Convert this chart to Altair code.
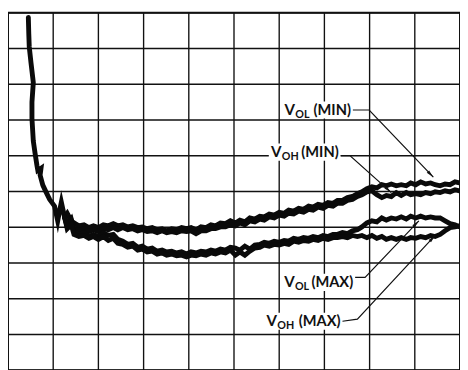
import altair as alt
import pandas as pd
import numpy as np

# ---- grid (divisions) ----
GRID_VALUES = [0, 1, 2, 3, 4, 5, 6, 7, 8, 9, 10]

# ---- common trunk of all four traces (x in divisions, y in divisions from top) ----
TRUNK_X = [0.45, 0.46, 0.47, 0.51, 0.56, 0.53, 0.53, 0.56, 0.60, 0.64, 0.66, 0.73, 0.71, 0.77, 0.84, 0.92, 1.03, 1.10, 1.14, 1.18, 1.25]
TRUNK_Y = [0.13, 0.59, 0.95, 1.41, 1.95, 2.50, 2.96, 3.59, 3.94, 4.27, 4.41, 4.35, 4.54, 4.82, 5.01, 5.22, 5.41, 5.82, 5.55, 5.30, 5.71]

# ---- sample positions shared by the four traces ----
X_GRID = [1.25, 1.31, 1.40,
          1.46, 1.57, 1.68, 1.79, 1.89, 2.00, 2.11, 2.22, 2.33, 2.43,
          2.54, 2.65, 2.76, 2.87, 2.97, 3.08, 3.19, 3.30, 3.41, 3.51,
          3.62, 3.73, 3.84, 3.95, 4.05, 4.16, 4.27, 4.38, 4.49, 4.59,
          4.70, 4.81, 4.92, 5.03, 5.13, 5.24, 5.35, 5.46, 5.57, 5.67,
          5.78, 5.89, 6.00, 6.11, 6.21, 6.32, 6.43, 6.54, 6.65, 6.75,
          6.86, 6.97, 7.08, 7.19, 7.29, 7.40, 7.51, 7.62, 7.73, 7.83,
          7.94, 8.05, 8.16, 8.27, 8.37, 8.48, 8.59, 8.70, 8.81, 8.91,
          9.02, 9.13, 9.24, 9.35, 9.45, 9.56, 9.67, 9.78, 9.89, 9.99]

Y_VOL_MIN = [5.71, 5.61, 5.82,
             5.88, 5.96, 5.93, 6.01, 5.96, 6.01, 5.93, 5.96, 5.90, 5.96,
             5.93, 5.99, 5.96, 6.01, 5.99, 6.04, 6.01, 6.07, 6.04, 6.10,
             6.04, 6.07, 6.01, 6.04, 6.01, 6.07, 5.99, 6.01, 5.93, 5.96,
             5.88, 5.90, 5.82, 5.88, 5.80, 5.85, 5.74, 5.77, 5.69, 5.71,
             5.63, 5.66, 5.58, 5.61, 5.52, 5.55, 5.47, 5.50, 5.41, 5.44,
             5.36, 5.39, 5.31, 5.33, 5.25, 5.25, 5.17, 5.14, 5.06, 5.01,
             4.92, 4.87, 4.90, 4.81, 4.84, 4.79, 4.84, 4.81, 4.84, 4.76,
             4.81, 4.73, 4.79, 4.76, 4.81, 4.84, 4.79, 4.81, 4.73, 4.76]

Y_VOH_MIN = [5.71, 5.93, 5.77,
             6.04, 6.10, 6.04, 6.12, 6.07, 6.12, 6.04, 6.07, 6.01, 6.07,
             6.01, 6.07, 6.04, 6.10, 6.07, 6.12, 6.10, 6.15, 6.10, 6.15,
             6.12, 6.15, 6.10, 6.12, 6.10, 6.18, 6.10, 6.10, 6.04, 6.04,
             5.99, 5.99, 5.93, 5.96, 5.88, 5.93, 5.82, 5.85, 5.77, 5.80,
             5.71, 5.74, 5.66, 5.69, 5.61, 5.63, 5.55, 5.58, 5.50, 5.52,
             5.44, 5.47, 5.39, 5.41, 5.33, 5.33, 5.25, 5.22, 5.14, 5.09,
             5.01, 4.98, 5.09, 5.17, 5.11, 5.14, 5.03, 5.11, 5.03, 5.09,
             5.06, 5.09, 5.03, 5.06, 5.01, 5.03, 4.98, 5.01, 4.95, 4.98]

Y_VOL_MAX = [5.71, 5.99, 5.82,
             6.12, 6.20, 6.15, 6.26, 6.20, 6.26, 6.15, 6.23, 6.20, 6.34,
             6.39, 6.48, 6.45, 6.56, 6.53, 6.61, 6.58, 6.67, 6.64, 6.69,
             6.67, 6.72, 6.69, 6.75, 6.69, 6.72, 6.67, 6.69, 6.64, 6.67,
             6.61, 6.64, 6.56, 6.58, 6.64, 6.53, 6.61, 6.50, 6.48, 6.42,
             6.45, 6.39, 6.42, 6.37, 6.39, 6.31, 6.34, 6.29, 6.31, 6.26,
             6.29, 6.23, 6.26, 6.20, 6.20, 6.15, 6.18, 6.10, 6.07, 5.99,
             5.88, 5.82, 5.85, 5.74, 5.80, 5.74, 5.77, 5.71, 5.77, 5.69,
             5.74, 5.69, 5.74, 5.71, 5.74, 5.74, 5.82, 5.90, 5.93, 5.99]

Y_VOH_MAX = [5.71, 6.04, 5.93,
             6.20, 6.26, 6.23, 6.31, 6.26, 6.34, 6.26, 6.37, 6.31, 6.45,
             6.48, 6.56, 6.53, 6.64, 6.61, 6.69, 6.67, 6.75, 6.72, 6.78,
             6.75, 6.80, 6.78, 6.83, 6.78, 6.80, 6.75, 6.78, 6.72, 6.75,
             6.69, 6.72, 6.64, 6.78, 6.69, 6.78, 6.67, 6.58, 6.56, 6.50,
             6.53, 6.48, 6.50, 6.45, 6.48, 6.39, 6.42, 6.37, 6.39, 6.34,
             6.37, 6.31, 6.34, 6.29, 6.29, 6.26, 6.29, 6.23, 6.26, 6.23,
             6.29, 6.23, 6.31, 6.26, 6.34, 6.29, 6.34, 6.29, 6.34, 6.29,
             6.31, 6.26, 6.29, 6.23, 6.26, 6.20, 6.10, 6.01, 5.99, 5.96]

# ---- labels ----
LABEL_MAIN = ["V", "V", "V", "V"]
LABEL_SUB = ["OL", "OH", "OL", "OH"]
LABEL_PAREN = ["(MIN)", "(MIN)", "(MAX)", "(MAX)"]
LABEL_X = [6.12, 5.82, 6.11, 5.72]        # left edge of the label
LABEL_Y = [2.86, 4.04, 7.68, 8.77]        # baseline of the label
LEAD_X0 = [7.63, 7.36, 7.68, 7.40]        # leader start (text end)
LEAD_Y0 = [2.72, 4.00, 7.40, 8.63]
ELBOW_X = [7.99, 7.57, 7.90, 7.73]
ELBOW_Y = [2.72, 4.00, 7.40, 8.57]
TIP_X = [9.41, 8.48, 9.09, 9.45]          # arrow tip on the trace
TIP_Y = [4.60, 5.03, 5.82, 6.23]

W, H = 464, 367

# ---- tables ----
rows = []
for i, (x, y) in enumerate(zip(TRUNK_X, TRUNK_Y)):
    rows.append({"s": "trunk", "i": i, "x": x, "y": y})
for name, ys in [("VOL_MIN", Y_VOL_MIN), ("VOH_MIN", Y_VOH_MIN),
                 ("VOL_MAX", Y_VOL_MAX), ("VOH_MAX", Y_VOH_MAX)]:
    assert len(ys) == len(X_GRID), (name, len(ys))
    for i, (x, y) in enumerate(zip(X_GRID, ys)):
        rows.append({"s": name, "i": i, "x": x, "y": y})
traces = pd.DataFrame(rows)

lab = pd.DataFrame({
    "main": LABEL_MAIN, "sub": LABEL_SUB, "paren": LABEL_PAREN,
    "lx": LABEL_X, "ly": LABEL_Y, "x0": LEAD_X0, "y0": LEAD_Y0,
    "ex": ELBOW_X, "ey": ELBOW_Y, "tx": TIP_X, "ty": TIP_Y,
})
lab["k"] = range(len(lab))
lab["bx0"] = lab["lx"] - 0.05
lab["by0"] = lab["ly"] - 0.38
lab["by1"] = lab["ly"] + 0.10
dxp = (lab["tx"] - lab["ex"]) * W / 10
dyp = (lab["ty"] - lab["ey"]) * H / 10
lab["ang"] = (np.degrees(np.arctan2(dxp, -dyp)) + 360) % 360

lead_rows = []
for _, r in lab.iterrows():
    for j, (x, y) in enumerate([(r.x0, r.y0), (r.ex, r.ey), (r.tx, r.ty)]):
        lead_rows.append({"k": r.k, "j": j, "x": x, "y": y})
leads = pd.DataFrame(lead_rows)

grid = pd.DataFrame({"g": GRID_VALUES})

xs = alt.Scale(domain=[0, 10], nice=False, zero=False)
ys_ = alt.Scale(domain=[0, 10], nice=False, zero=False, reverse=True)
noax = None

vgrid = alt.Chart(grid).mark_rule(color="#111111", strokeWidth=1.4).encode(
    x=alt.X("g:Q", scale=xs, axis=noax))
hgrid = alt.Chart(grid).mark_rule(color="#111111", strokeWidth=1.4).encode(
    y=alt.Y("g:Q", scale=ys_, axis=noax))

lines = alt.Chart(traces).mark_line(
    color="#0a0a0a", strokeWidth=5, strokeJoin="miter", strokeMiterLimit=6, strokeCap="round"
).encode(x=alt.X("x:Q", scale=xs, axis=noax), y=alt.Y("y:Q", scale=ys_, axis=noax),
         detail="s:N", order="i:Q")

bg = alt.Chart(lab).mark_rect(color="white").encode(
    x=alt.X("bx0:Q", scale=xs, axis=noax), x2="x0:Q",
    y=alt.Y("by0:Q", scale=ys_, axis=noax), y2="by1:Q")

leader = alt.Chart(leads).mark_line(color="#111111", strokeWidth=1.2).encode(
    x=alt.X("x:Q", scale=xs, axis=noax), y=alt.Y("y:Q", scale=ys_, axis=noax),
    detail="k:N", order="j:Q")

arrows = alt.Chart(lab).mark_point(
    shape="M0,0L0.42,2L-0.42,2Z", filled=True, color="#111111", opacity=1, size=64
).encode(x=alt.X("tx:Q", scale=xs, axis=noax), y=alt.Y("ty:Q", scale=ys_, axis=noax),
         angle=alt.Angle("ang:Q", scale=None))

font = "Lato"
t_main = alt.Chart(lab).mark_text(
    align="left", baseline="alphabetic", font=font, fontSize=15.5, fontWeight="bold", color="#111111"
).encode(x=alt.X("lx:Q", scale=xs, axis=noax), y=alt.Y("ly:Q", scale=ys_, axis=noax), text="main:N")

t_sub = alt.Chart(lab).mark_text(
    align="left", baseline="alphabetic", font=font, fontSize=11, fontWeight="bold", color="#111111",
    dx=11, dy=3
).encode(x=alt.X("lx:Q", scale=xs, axis=noax), y=alt.Y("ly:Q", scale=ys_, axis=noax), text="sub:N")

t_par = alt.Chart(lab).mark_text(
    align="right", baseline="alphabetic", font=font, fontSize=15, fontWeight="bold", color="#111111",
    dx=-2
).encode(x=alt.X("x0:Q", scale=xs, axis=noax), y=alt.Y("ly:Q", scale=ys_, axis=noax), text="paren:N")

chart = alt.layer(vgrid, hgrid, bg, lines, leader, arrows, t_main, t_sub, t_par).properties(
    width=W, height=H, padding=0, autosize=alt.AutoSizeParams(type="none"),
    background="white"
).configure_view(stroke="#111111", strokeWidth=2)

chart.save("out.html", embed_options={"renderer": "svg", "actions": False})
